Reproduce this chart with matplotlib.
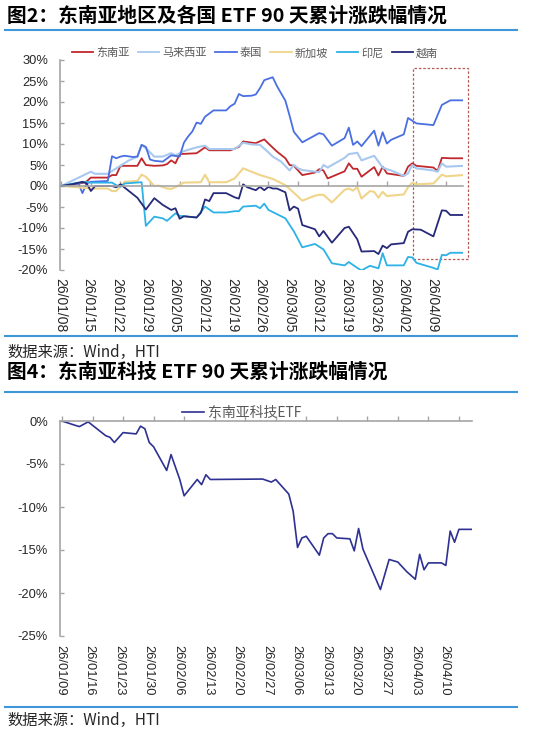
import numpy as np
import matplotlib
matplotlib.use("Agg")
import matplotlib.pyplot as plt
import matplotlib.dates as mdates
from matplotlib.patches import Rectangle
from matplotlib.lines import Line2D

plt.rcParams['font.family'] = ['Liberation Sans', 'Noto Sans CJK SC', 'DejaVu Sans']
CJK = ['Noto Sans CJK SC', 'DejaVu Sans']

# ---------------- data : chart 1 (day offsets from START1, cumulative %) ----------------
START1 = '2026-01-08'
TITLE1 = '图2：东南亚地区及各国 ETF 90 天累计涨跌幅情况'
SERIES1 = ['东南亚', '马来西亚', '泰国', '新加坡', '印尼', '越南']

sea_d = [0, 5, 6, 7, 11, 12, 13, 14, 18, 19, 20, 22, 24, 25, 26, 27, 28, 32, 34, 35, 40, 42, 43, 46, 48, 49,
         51, 53, 54, 55, 57, 60, 61, 62, 63, 67, 68, 69, 70, 71, 74, 75, 76, 77, 81, 82, 83, 84, 88, 89, 90, 92, 95]
sea_v = [0, 0.7, 1.1, 2.0, 2.0, 2.6, 2.6, 4.8, 4.8, 6.6, 5.0, 4.8, 4.9, 5.2, 6.1, 5.4, 7.6, 7.8, 9.2, 8.5, 8.5, 9.3,
         10.6, 10.2, 11.1, 10.1, 8.2, 6.6, 5.0, 4.8, 2.6, 3.2, 4.0, 3.7, 1.8, 3.5, 5.4, 4.1, 4.1, 2.2, 4.5, 2.5, 4.6,
         3.0, 2.4, 4.6, 5.4, 4.8, 4.4, 3.6, 6.7, 6.6, 6.6]

my_d = [0, 7, 8, 11, 13, 16, 18, 19, 20, 22, 24, 26, 27, 29, 32, 34, 35, 41, 43, 45, 47, 49, 50, 52, 54, 55, 56,
        57, 61, 62, 63, 67, 68, 70, 71, 74, 76, 77, 78, 81, 82, 83, 84, 88, 89, 90, 91, 95]
my_v = [0, 3.4, 2.9, 2.9, 4.2, 6.1, 7.0, 9.8, 9.0, 7.0, 7.0, 7.8, 7.3, 8.3, 9.2, 9.6, 8.8, 8.8, 10.3, 9.9, 9.8,
        8.0, 7.0, 5.8, 3.7, 5.0, 4.2, 3.8, 3.3, 5.0, 4.4, 6.7, 7.6, 7.9, 6.1, 7.2, 4.4, 4.0, 3.7, 2.4, 3.0, 5.0,
        4.2, 3.7, 3.4, 5.4, 4.6, 4.8]

th_d = [0, 2, 4, 5, 6, 7, 11, 12, 13, 14, 15, 17, 18, 19, 20, 21, 22, 24, 26, 28, 29, 30, 31, 32, 33, 34, 36, 39,
        40, 41, 42, 43, 45, 46, 47, 48, 50, 51, 53, 54, 55, 57, 61, 62, 64, 67, 68, 69, 70, 71, 74, 75, 76, 77, 78,
        81, 82, 84, 88, 90, 92, 95]
th_v = [0, 0.3, 0.8, -1.7, 0.6, 1.0, 1.2, 7.1, 6.6, 7.0, 7.2, 6.9, 7.0, 9.8, 9.3, 6.3, 6.0, 5.8, 7.3, 7.0, 10.3,
        11.8, 13.0, 15.1, 14.8, 16.5, 18.0, 18.0, 19.0, 19.6, 21.9, 21.4, 21.5, 21.8, 23.3, 25.2, 25.9, 23.8, 20.3,
        16.7, 12.9, 10.4, 12.6, 12.3, 9.6, 11.4, 13.9, 9.8, 10.6, 9.5, 13.2, 9.6, 12.8, 10.1, 11.0, 12.3, 16.2,
        14.9, 14.5, 19.3, 20.4, 20.4]

sg_d = [0, 4, 7, 11, 12, 13, 15, 18, 19, 20, 22, 23, 25, 26, 27, 28, 29, 33, 34, 35, 39, 41, 43, 47, 50, 53, 55,
        57, 60, 61, 62, 64, 67, 68, 69, 70, 71, 73, 74, 75, 76, 77, 81, 82, 83, 84, 88, 90, 91, 95]
sg_v = [0, -0.3, -0.6, -0.6, -1.2, -1.2, 1.0, 1.2, 2.7, 2.2, 0, 0.1, -0.6, -0.7, -0.3, 0.3, 0.8, 0.9, 2.7, 0.9,
        0.9, 1.8, 4.2, 2.6, 1.7, 0.2, -1.6, -3.5, -2.3, -2.1, -2.1, -3.9, -0.9, -0.6, -1.1, -0.3, -3.0, -1.2,
        -1.4, -2.8, -1.4, -2.4, -2.0, -0.3, 0.8, 0.4, 0.6, 2.7, 2.3, 2.6]

id_d = [0, 3, 6, 7, 12, 13, 14, 15, 19, 20, 22, 24, 25, 27, 28, 32, 34, 36, 39, 41, 42, 43, 46, 47, 48, 49, 53,
        55, 57, 60, 62, 64, 67, 68, 70, 71, 73, 74, 75, 76, 77, 81, 82, 83, 84, 88, 89, 90, 91, 92, 95]
id_v = [0, 0.6, 1.0, 0.8, 0.8, 0.2, -0.2, 0.6, 0.9, -9.5, -7.3, -7.7, -8.3, -6.5, -7.1, -7.5, -4.9, -6.3, -6.3,
        -6.0, -6.0, -4.9, -4.7, -5.3, -4.2, -5.7, -7.7, -10.8, -14.6, -13.8, -15.1, -18.4, -18.9, -18.1, -19.5,
        -20.1, -19.0, -19.3, -19.6, -16.0, -18.9, -18.9, -16.9, -17.0, -18.3, -19.5, -19.9, -16.4, -16.5, -15.9,
        -15.9]

vn_d = [0, 3, 5, 6, 7, 8, 12, 13, 14, 18, 20, 22, 24, 26, 27, 28, 29, 32, 33, 34, 35, 36, 39, 41, 42, 43, 44, 46,
        47, 48, 49, 50, 51, 53, 54, 55, 56, 57, 60, 61, 62, 64, 67, 68, 70, 71, 74, 75, 76, 77, 78, 81, 82, 83, 85,
        88, 90, 91, 92, 95]
vn_v = [0, 0.5, 1.0, 0.6, -1.2, 0, 0, -0.3, 0.4, -2.8, -5.6, -2.9, -4.5, -5.7, -5.3, -7.8, -7.2, -7.5, -6.4, -3.2,
        -3.6, -1.7, -1.7, -2.7, -3.0, 0.4, -0.3, -1.0, -0.2, -1.0, -0.2, -0.6, -0.6, -1.5, -5.8, -4.9, -5.4, -9.3,
        -10.3, -12.0, -10.7, -13.5, -10.0, -9.7, -12.7, -15.6, -15.5, -16.2, -14.2, -14.8, -13.9, -13.6, -10.9,
        -10.3, -10.4, -12.0, -5.8, -5.9, -6.9, -6.9]

# ---------------- data : chart 2 ----------------
START2 = '2026-01-09'
TITLE2 = '图4：东南亚科技 ETF 90 天累计涨跌幅情况'
SERIES2 = '东南亚科技ETF'
tech_d = [0, 3, 4, 6, 10, 11, 12, 14, 17, 18, 19, 20, 21, 24, 25, 27, 28, 31, 32, 33, 34, 46, 48, 49, 52, 53, 54,
          55, 56, 59, 60, 61, 62, 63, 66, 67, 68, 69, 73, 75, 77, 79, 81, 82, 83, 84, 87, 88, 89, 90, 91, 94]
tech_v = [0, -0.5, -0.65, -0.1, -1.7, -1.9, -2.5, -1.35, -1.5, -0.6, -0.9, -2.5, -3.0, -5.75, -3.9, -6.8, -8.7,
          -6.8, -7.4, -6.25, -6.8, -6.75, -7.1, -6.8, -8.5, -10.5, -14.7, -13.6, -13.4, -15.6, -13.6, -13.1, -13.1,
          -13.6, -13.7, -15.1, -12.5, -14.9, -19.6, -16.1, -16.4, -17.5, -18.4, -15.5, -17.3, -16.5, -16.5, -16.8,
          -12.8, -14.1, -12.6, -12.6]

SOURCE = '数据来源：Wind，HTI'

COLORS1 = ['#C0282D', '#A9C8EE', '#4A6FE3', '#F0D48A', '#2CB2E6', '#27297A']
COLOR2 = '#2E3192'
GRID_GRAY = '#A6A6A6'
TXT = '#262626'
BLUE_RULE = '#3E97D8'

# ---------------- figure ----------------
W, H = 538, 734
fig = plt.figure(figsize=(W / 100, H / 100), dpi=100)


def fx(px):
    return px / W


def fy(py):
    return 1 - py / H


def to_dates(start, days):
    return np.datetime64(start) + np.asarray(days).astype('timedelta64[D]')


def style_axes(ax, start, ndays, ylo, yhi, lab_size, lab_pad, lab_step, lab_off):
    base = mdates.date2num(np.datetime64(start))
    ax.set_xlim(base, base + ndays)
    ax.set_ylim(ylo, yhi)
    for s in ['right', 'bottom']:
        ax.spines[s].set_visible(False)
    ax.spines['left'].set_color(GRID_GRAY)
    ax.spines['left'].set_linewidth(1.2)
    ax.spines['top'].set_position(('data', 0))
    ax.spines['top'].set_color(GRID_GRAY)
    ax.spines['top'].set_linewidth(1.2)
    nweeks = int(ndays // 7) + 1
    major = [base + 7 * k for k in range(nweeks)]
    labels = [mdates.num2date(m).strftime('%y/%m/%d') for m in major]
    minor = [base + lab_off + lab_step * k for k in range(nweeks)]
    ax.set_xticks(major)
    ax.set_xticklabels([''] * nweeks)
    ax.set_xticks(minor, minor=True)
    ax.set_xticklabels(labels, minor=True, rotation=-90, fontsize=lab_size, color=TXT,
                       family='Liberation Sans', va='top', ha='center')
    ax.tick_params(axis='x', which='major', top=True, bottom=False, labeltop=False, labelbottom=False,
                   direction='out', length=3.5, width=1, color=GRID_GRAY)
    ax.tick_params(axis='x', which='minor', top=False, bottom=True, labelbottom=True, length=0, pad=lab_pad)
    ax.set_yticks(np.arange(ylo, yhi + 0.1, 5))
    ax.set_yticklabels(['%d%%' % v for v in np.arange(ylo, yhi + 0.1, 5)], fontsize=9.3, color=TXT,
                       family='Liberation Sans')
    ax.tick_params(axis='y', direction='in', length=3, width=1, color=GRID_GRAY, pad=8.6)
    ax.patch.set_alpha(0)
    return base


# ---- chart 1 ----
ax1 = fig.add_axes([fx(60), fy(270), (463 - 60) / W, 210 / H])
base1 = style_axes(ax1, START1, 95, -20, 30, 10, 5.8, 6.77, -0.3)
ser1 = [(sea_d, sea_v), (my_d, my_v), (th_d, th_v), (sg_d, sg_v), (id_d, id_v), (vn_d, vn_v)]
for (d, v), c, name in zip(ser1, COLORS1, SERIES1):
    lw = 1.5 if name in ('马来西亚', '新加坡') else 1.3
    ax1.plot(to_dates(START1, d), v, color=c, lw=lw, solid_joinstyle='round')

rect = Rectangle((base1 + 83.2, -17.4), 13.0, 45.5, fill=False, edgecolor='#B55A55',
                 linestyle=(0, (2, 1.5)), lw=0.9, clip_on=False)
ax1.add_patch(rect)

handles1 = [Line2D([], [], color=c, lw=1.3) for c in COLORS1]
fig.legend(handles1, SERIES1, loc='center left', bbox_to_anchor=(fx(72), fy(53)), ncol=6, frameon=False,
           handlelength=1.9, handletextpad=0.3, columnspacing=0.75, borderpad=0, borderaxespad=0,
           prop={'family': CJK, 'size': 8}, labelcolor='#595959')

# ---- chart 2 ----
ax2 = fig.add_axes([fx(60), fy(636), (472 - 60) / W, 215 / H])
base2 = style_axes(ax2, START2, 94, -25, 0, 9.3, 6.5, 6.78, -0.46)
ax2.plot(to_dates(START2, tech_d), tech_v, color=COLOR2, lw=1.2, solid_joinstyle='round')
fig.legend([Line2D([], [], color=COLOR2, lw=1.2)], [SERIES2], loc='center left',
           bbox_to_anchor=(fx(182), fy(413)), frameon=False, handlelength=1.6, handletextpad=0.3,
           borderpad=0, borderaxespad=0, prop={'family': CJK, 'size': 10}, labelcolor='#595959')

# ---- titles, rules, sources ----
fig.text(fx(7), fy(16), TITLE1, fontsize=14.2, fontweight='bold', family=CJK, va='center', ha='left', color='black')
fig.text(fx(7), fy(372), TITLE2, fontsize=14.2, fontweight='bold', family=CJK, va='center', ha='left', color='black')
fig.text(fx(7), fy(352), SOURCE, fontsize=11, family=CJK, va='center', ha='left', color=TXT)
fig.text(fx(7), fy(720), SOURCE, fontsize=11, family=CJK, va='center', ha='left', color=TXT)
for yy in (30, 336, 392, 707):
    fig.add_artist(Line2D([fx(5), fx(517)], [fy(yy), fy(yy)], color=BLUE_RULE, lw=1.5,
                          transform=fig.transFigure))

fig.savefig('out.png', dpi=100, facecolor='white')
